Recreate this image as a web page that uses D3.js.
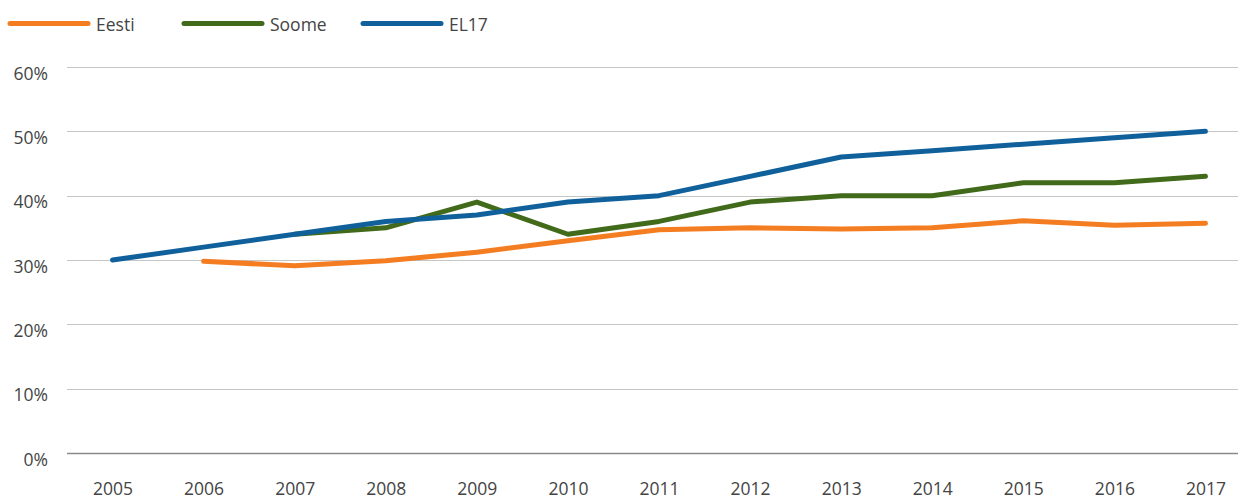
<!DOCTYPE html>
<html>
  <head>
    <meta charset="utf-8">
    <title>Eesti, Soome, EL17</title>
    <script src="https://d3js.org/d3.v7.min.js"></script>
    <style>
      body { margin: 0; background: #fff; }
      text { font-family: "Open Sans", "Noto Sans", sans-serif; font-size: 17.5px; fill: #444; }
      .grid line { stroke: #c6c6c6; stroke-width: 1.2; }
      .grid line.zero { stroke: #8a8a8a; stroke-width: 1.5; }
      .series { fill: none; stroke-width: 5; stroke-linecap: round; stroke-linejoin: round; }
    </style>
  </head>
  <body>
    <svg width="1238" height="500"></svg>

    <script>
      // data (percent)
      const years = ["2005", "2006", "2007", "2008", "2009", "2010", "2011", "2012", "2013", "2014", "2015", "2016", "2017"];
      const eesti = [null, 29.8, 29.1, 29.9, 31.2, 33.0, 34.7, 35.0, 34.8, 35.0, 36.1, 35.4, 35.7];
      const soome = [null, null, 34, 35, 39, 34, 36, 39, 40, 40, 42, 42, 43];
      const el17 = [30, 32, 34, 36, 37, 39, 40, 43, 46, 47, 48, 49, 50];
      const yTicks = [0, 10, 20, 30, 40, 50, 60];

      const series = [
        { name: "Eesti", values: eesti, color: "#f47d22" },
        { name: "Soome", values: soome, color: "#416a1b" },
        { name: "EL17", values: el17, color: "#10619b" }
      ];

      let svg = d3.select("svg");

      let x = d3.scalePoint()
        .domain(years)
        .range([67, 1251])
        .padding(0.5);

      let y = d3.scaleLinear()
        .domain([0, 60])
        .range([453, 67]);

      // grid lines
      let grid = svg.append("g").attr("class", "grid");
      grid.selectAll("line")
        .data(yTicks)
        .enter().append("line")
          .attr("class", d => d === 0 ? "zero" : null)
          .attr("x1", 67)
          .attr("x2", 1238)
          .attr("y1", d => Math.round(y(d)) + 0.5)
          .attr("y2", d => Math.round(y(d)) + 0.5);

      // y labels
      svg.append("g")
        .attr("transform", "translate(48,0)")
        .call(d3.axisLeft(y).tickValues(yTicks).tickSize(0).tickPadding(0).tickFormat(d => d + "%"))
        .call(g => g.select(".domain").remove())
        .call(g => g.selectAll("text")
          .attr("dy", null)
          .attr("y", 12)
          .style("font-family", null).style("font-size", null));

      // x labels
      svg.append("g")
        .attr("transform", "translate(0,495)")
        .call(d3.axisBottom(x).tickSize(0).tickPadding(0))
        .call(g => g.select(".domain").remove())
        .call(g => g.selectAll("text")
          .attr("dy", null)
          .attr("y", 0)
          .style("font-family", null).style("font-size", null));
      svg.selectAll(".tick text").attr("fill", null);

      // lines
      let line = d3.line()
        .defined(d => d[1] != null)
        .x(d => x(d[0]))
        .y(d => y(d[1]));

      svg.selectAll(".series")
        .data(series)
        .enter().append("path")
          .attr("class", "series")
          .attr("stroke", d => d.color)
          .attr("d", d => line(years.map((yr, i) => [yr, d.values[i]])));

      // legend
      const legendX = [10, 184, 363];
      let legend = svg.selectAll(".legend")
        .data(series)
        .enter().append("g")
          .attr("class", "legend")
          .attr("transform", (d, i) => "translate(" + legendX[i] + ",23.5)");

      legend.append("line")
        .attr("x1", 0)
        .attr("x2", 78)
        .attr("stroke", d => d.color)
        .attr("stroke-width", 5)
        .attr("stroke-linecap", "round");

      legend.append("text")
        .attr("x", 86)
        .attr("y", 7)
        .text(d => d.name);
    </script>
  </body>
</html>
